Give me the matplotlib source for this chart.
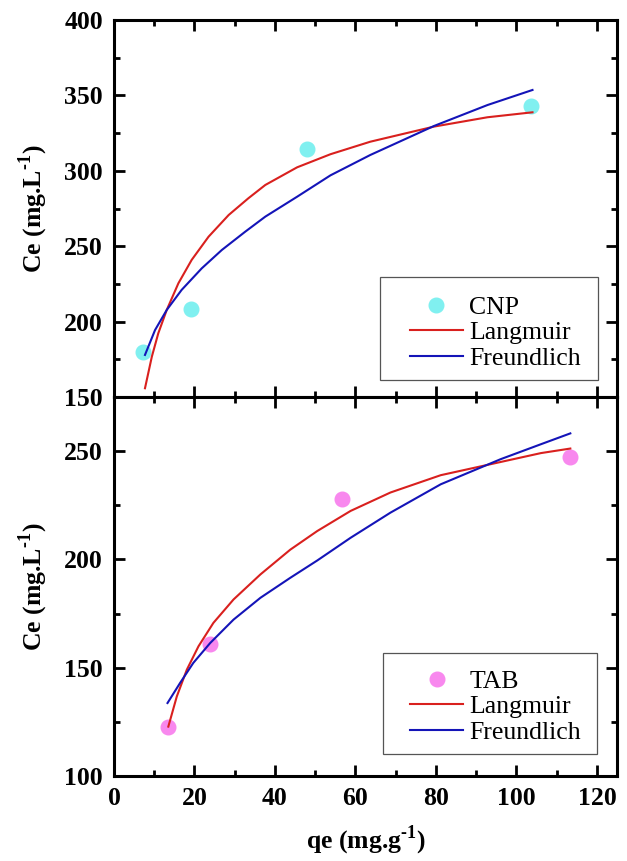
import matplotlib
matplotlib.use("Agg")
import matplotlib.pyplot as plt
from matplotlib.lines import Line2D
from matplotlib.patches import Rectangle
from matplotlib.ticker import MultipleLocator

plt.rcParams['font.family'] = ['Liberation Serif', 'DejaVu Serif']
plt.rcParams['mathtext.fontset'] = 'custom'
plt.rcParams['mathtext.rm'] = 'Liberation Serif'
plt.rcParams['mathtext.bf'] = 'Liberation Serif:bold'

# ---- data ----
cnp_qe = [7.3, 19.1, 48.0, 103.7]
cnp_ce = [179.6, 208.2, 314.2, 343.0]
cnp_lang_x = [7.7, 9.4, 11.0, 13.1, 16.0, 19.3, 23.5, 28.5, 33.4, 37.6, 45.5, 53.8, 63.7, 79.5, 92.8, 104.0]
cnp_lang_y = [155.8, 176.7, 192.2, 207.7, 225.4, 240.9, 256.3, 270.7, 281.8, 290.6, 302.3, 311.0, 319.3, 329.3, 335.5, 338.8]
cnp_freu_x = [7.7, 10.2, 13.1, 16.8, 21.8, 26.8, 32.6, 37.6, 45.5, 53.8, 63.7, 79.5, 92.8, 104.0]
cnp_freu_y = [177.9, 194.4, 207.7, 221.0, 235.3, 247.5, 259.6, 269.6, 282.8, 297.0, 310.5, 329.7, 343.6, 353.6]

tab_qe = [13.3, 23.9, 56.7, 113.4]
tab_ce = [122.4, 161.0, 228.1, 247.1]
tab_lang_x = [13.5, 15.6, 18.1, 21.0, 24.7, 29.7, 36.4, 43.8, 50.5, 58.8, 68.7, 81.2, 96.1, 106.1, 113.4]
tab_lang_y = [122.8, 136.7, 149.1, 159.9, 170.7, 181.5, 193.1, 204.5, 213.1, 222.4, 230.9, 238.9, 245.0, 249.1, 251.2]
tab_freu_x = [13.3, 16.4, 19.7, 23.9, 29.7, 36.4, 43.8, 50.5, 58.8, 68.7, 81.2, 96.1, 106.1, 113.4]
tab_freu_y = [133.7, 142.9, 152.2, 161.4, 172.2, 182.3, 191.5, 199.5, 210.0, 221.6, 234.7, 246.3, 253.2, 258.2]

x_ticks = [0, 20, 40, 60, 80, 100, 120]
top_yticks = [150, 200, 250, 300, 350, 400]
bot_yticks = [100, 150, 200, 250]

RED = '#d9201e'
BLUE = '#1414b8'
CYAN = '#80f0f0'
PINK = '#f888ee'

YLABEL = 'Ce (mg.L$^{\\mathbf{\u20101}}$)'
XLABEL = 'qe (mg.g$^{\\mathbf{\u20101}}$)'

fig = plt.figure(figsize=(6.27, 8.61), dpi=100)
L, W = 114 / 627, 503 / 627
ax1 = fig.add_axes([L, 1 - 397 / 861, W, 377 / 861])
ax2 = fig.add_axes([L, 1 - 776 / 861, W, 379 / 861])

def style(ax):
    for s in ax.spines.values():
        s.set_linewidth(2.2)
    ax.tick_params(which='both', direction='in', top=True, right=True,
                   width=2.0, labelsize=18.5, pad=8)
    ax.tick_params(which='major', length=8)
    ax.tick_params(which='minor', length=4.5)
    ax.set_xlim(0, 125)
    ax.set_xticks(x_ticks)
    ax.xaxis.set_minor_locator(MultipleLocator(10))
    ax.yaxis.set_minor_locator(MultipleLocator(25))
    for t in ax.get_xticklabels() + ax.get_yticklabels():
        t.set_fontweight('bold')

def add_legend(ax, label, color, box, anchor):
    handles = [
        Line2D([], [], marker='o', linestyle='none', markersize=10.5,
               markerfacecolor=color, markeredgecolor=color),
        Line2D([], [], color=RED, lw=1.5),
        Line2D([], [], color=BLUE, lw=1.5),
    ]
    ax.add_patch(Rectangle((box[0], box[1]), box[2] - box[0], box[3] - box[1],
                           transform=ax.transAxes, fill=True, facecolor='white',
                           edgecolor='#555555', lw=0.9, zorder=5))
    leg = ax.legend(handles, [label, 'Langmuir', 'Freundlich'], loc='center left',
                    bbox_to_anchor=anchor, frameon=False, fontsize=18.5,
                    handlelength=2.05, handletextpad=0.25, labelspacing=0.1,
                    borderpad=0, borderaxespad=0)
    leg.set_zorder(6)

# top panel
ax1.plot(cnp_lang_x, cnp_lang_y, color=RED, lw=1.5, zorder=3)
ax1.plot(cnp_freu_x, cnp_freu_y, color=BLUE, lw=1.5, zorder=3)
ax1.plot(cnp_qe, cnp_ce, 'o', color=CYAN, markersize=10.5, zorder=2)
ax1.set_ylim(150, 400)
ax1.set_yticks(top_yticks)
style(ax1)
ax1.tick_params(labelbottom=False)
ax1.set_ylabel(YLABEL, fontsize=18.5, fontweight='bold', labelpad=10)
add_legend(ax1, 'CNP', CYAN, (0.529, 0.045, 0.962, 0.318), (0.5885, 0.170))

# bottom panel
ax2.plot(tab_lang_x, tab_lang_y, color=RED, lw=1.5, zorder=3)
ax2.plot(tab_freu_x, tab_freu_y, color=BLUE, lw=1.5, zorder=3)
ax2.plot(tab_qe, tab_ce, 'o', color=PINK, markersize=10.5, zorder=2)
ax2.set_ylim(100, 275)
ax2.set_yticks(bot_yticks)
style(ax2)
ax2.set_ylabel(YLABEL, fontsize=18.5, fontweight='bold', labelpad=10)
ax2.set_xlabel(XLABEL, fontsize=18.5, fontweight='bold', labelpad=10)
add_legend(ax2, 'TAB', PINK, (0.535, 0.058, 0.960, 0.3245), (0.589, 0.183))

fig.savefig('out.png', dpi=100)
